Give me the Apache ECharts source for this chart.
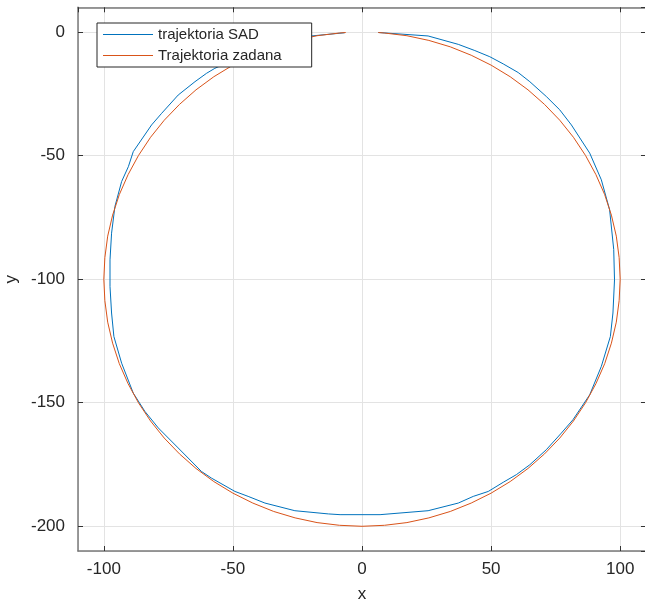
<!DOCTYPE html>
<html>
<head>
<meta charset="utf-8">
<script src="https://cdn.jsdelivr.net/npm/echarts@6/dist/echarts.min.js"></script>
<style>html,body{margin:0;padding:0;background:#fff;}#c{width:645px;height:600px;}</style>
</head>
<body>
<div id="c"></div>
<script>
const seriesNames = ['trajektoria SAD', 'Trajektoria zadana'];
const xTicks = [-100, -50, 0, 50, 100];
const yTicks = [0, -50, -100, -150, -200];

const blueX = [6.3, 25.6, 37.3, 43.7, 49.5, 54.7, 60.5, 65.0, 71.4, 76.6, 81.1, 88.2, 92.7, 95.9, 97.5, 97.8, 97.2, 96.2, 92.7, 88.2, 81.7, 77.2, 71.4, 65.0, 59.8, 54.7, 48.9, 43.1, 37.3, 25.6, 7.0, -8.5, -13.0, -26.0, -37.6, -44.1, -49.2, -58.3, -62.2, -71.2, -78.9, -84.1, -88.6, -93.1, -96.1, -97.0, -97.6, -97.6, -97.0, -95.7, -93.1, -90.5, -88.6, -81.5, -77.6, -71.2, -64.7, -60.2, -57.0, -45.0, -33.0, -19.6, -6.7];
const blueY = [-0.2, -1.6, -5.0, -7.5, -10.0, -12.9, -16.4, -20.1, -26.1, -31.5, -37.6, -49.0, -59.8, -71.9, -88.0, -100.3, -113.7, -123.2, -135.3, -146.8, -156.9, -162.3, -169.0, -175.1, -179.1, -182.2, -185.9, -187.9, -190.6, -193.7, -195.3, -195.3, -195.0, -193.7, -190.6, -187.9, -185.9, -180.5, -177.8, -168.3, -160.2, -153.5, -146.1, -134.0, -123.2, -113.7, -103.0, -92.2, -81.4, -70.6, -60.5, -54.5, -48.4, -37.6, -32.9, -25.5, -20.1, -16.7, -14.7, -9.0, -5.0, -1.6, -0.3];

const redX = [6.3, 8.7, 17.4, 25.9, 34.2, 42.3, 50.0, 57.4, 64.3, 70.7, 76.6, 81.9, 86.6, 90.6, 94.0, 96.6, 98.5, 99.6, 100, 99.6, 98.5, 96.6, 94.0, 90.6, 86.6, 81.9, 76.6, 70.7, 64.3, 57.4, 50.0, 42.3, 34.2, 25.9, 17.4, 8.7, 0, -8.7, -17.4, -25.9, -34.2, -42.3, -50.0, -57.4, -64.3, -70.7, -76.6, -81.9, -86.6, -90.6, -94.0, -96.6, -98.5, -99.6, -100, -99.6, -98.5, -96.6, -94.0, -90.6, -86.6, -81.9, -76.6, -70.7, -64.3, -57.4, -50.0, -42.3, -34.2, -25.9, -17.4, -8.7, -6.3];
const redY = [-0.2, -0.4, -1.5, -3.4, -6.0, -9.4, -13.4, -18.1, -23.4, -29.3, -35.7, -42.6, -50.0, -57.7, -65.8, -74.1, -82.6, -91.3, -100, -108.7, -117.4, -125.9, -134.2, -142.3, -150.0, -157.4, -164.3, -170.7, -176.6, -181.9, -186.6, -190.6, -194.0, -196.6, -198.5, -199.6, -200, -199.6, -198.5, -196.6, -194.0, -190.6, -186.6, -181.9, -176.6, -170.7, -164.3, -157.4, -150.0, -142.3, -134.2, -125.9, -117.4, -108.7, -100, -91.3, -82.6, -74.1, -65.8, -57.7, -50.0, -42.6, -35.7, -29.3, -23.4, -18.1, -13.4, -9.4, -6.0, -3.4, -1.5, -0.4, -0.2];

const zip = (a, b) => a.map((v, i) => [v, b[i]]);
const FONT = '"Liberation Sans", Arial, Helvetica, sans-serif';
const AXC = '#7a7a7a';
const TXT = '#262626';
const LINE_ICON = 'path://M0,0 L50,0 L50,1 L0,1 Z';

const chart = echarts.init(document.getElementById('c'), null, {renderer: 'canvas'});

function xAx(pos, main) {
  return {
    type: 'value', position: pos, min: -110, max: 110,
    minInterval: 50, maxInterval: 50,
    name: main ? 'x' : '', nameLocation: 'middle', nameGap: 35,
    nameTextStyle: {fontSize: 17, color: TXT, fontFamily: FONT},
    axisLine: {show: true, onZero: false, lineStyle: {color: AXC, width: 1.5}},
    axisTick: {show: true, inside: true, length: 5, lineStyle: {color: '#333', width: 1}},
    axisLabel: {show: main, fontSize: 17, color: TXT, fontFamily: FONT, margin: 10,
      showMinLabel: false, showMaxLabel: false,
      formatter: v => xTicks.includes(v) ? String(v) : ''},
    splitLine: {show: main, lineStyle: {color: '#e3e3e3', width: 1}}
  };
}
function yAx(pos, main) {
  return {
    type: 'value', position: pos, min: -210, max: 10,
    minInterval: 50, maxInterval: 50,
    name: main ? 'y' : '', nameLocation: 'middle', nameGap: 55, nameRotate: 90,
    nameTextStyle: {fontSize: 17, color: TXT, fontFamily: FONT},
    axisLine: {show: true, onZero: false, lineStyle: {color: AXC, width: 1.5}},
    axisTick: {show: true, inside: true, length: 5, lineStyle: {color: '#333', width: 1}},
    axisLabel: {show: main, fontSize: 17, color: TXT, fontFamily: FONT, margin: 13,
      showMinLabel: false, showMaxLabel: false,
      formatter: v => yTicks.includes(v) ? String(v) : ''},
    splitLine: {show: main, lineStyle: {color: '#e3e3e3', width: 1}}
  };
}

chart.setOption({
  backgroundColor: '#fff',
  animation: false,
  grid: {left: 78, right: -1, top: 7.3, bottom: 49, containLabel: false, outerBoundsMode: 'none'},
  xAxis: [xAx('bottom', true), xAx('top', false)],
  yAxis: [yAx('left', true), yAx('right', false)],
  legend: {
    show: true, left: 97, top: 23, orient: 'vertical',
    backgroundColor: '#fff', borderColor: '#262626', borderWidth: 1,
    padding: [4, 30, 4, 6], itemGap: 6, itemWidth: 50, itemHeight: 1,
    icon: LINE_ICON,
    textStyle: {fontSize: 15, color: TXT, fontFamily: FONT, lineHeight: 15},
    data: seriesNames.map(n => ({name: n, icon: LINE_ICON}))
  },
  series: [
    {name: seriesNames[0], type: 'line', xAxisIndex: 0, yAxisIndex: 0,
     data: zip(blueX, blueY), symbol: 'none', showSymbol: false,
     lineStyle: {color: '#0072BD', width: 1}, itemStyle: {color: '#0072BD'}, z: 2},
    {name: seriesNames[1], type: 'line', xAxisIndex: 0, yAxisIndex: 0,
     data: zip(redX, redY), symbol: 'none', showSymbol: false,
     lineStyle: {color: '#D95319', width: 1}, itemStyle: {color: '#D95319'}, z: 3}
  ]
});
</script>
</body>
</html>
